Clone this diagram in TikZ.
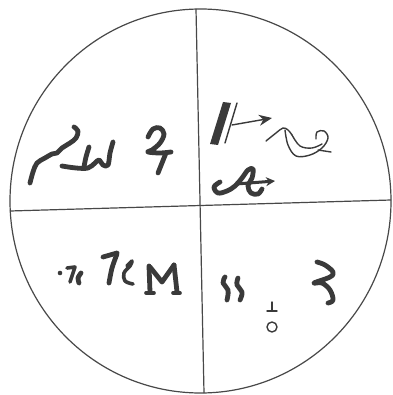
\documentclass[tikz,border=0pt]{standalone}
\usetikzlibrary{arrows.meta}
\definecolor{ink}{RGB}{58,58,58}
\definecolor{rimline}{RGB}{72,72,72}

\begin{document}
\begin{tikzpicture}[x=1pt, y=-1pt,
    rim/.style={draw=rimline, line width=1.2pt},
    sign/.style={draw=ink, line width=4.8pt, line cap=round, line join=round},
    midsign/.style={draw=ink, line width=3.6pt, line cap=round, line join=round},
    thinsign/.style={draw=ink, line width=1.4pt, line cap=round, line join=round},
    arr/.style={-{Stealth[length=13pt, width=11pt]}, thinsign}
  ]
  \useasboundingbox[fill=white] (0,0) rectangle (392,395);
  % disc and cross
  \coordinate (c) at (200.5,201);
  \coordinate (top) at (196,9);
  \coordinate (bot) at (204,393);
  \coordinate (lft) at (10,211);
  \coordinate (rgt) at (391,200);
  \draw[rim] (c) ellipse [x radius=190.5, y radius=192];
  \draw[rim] (top) -- (bot);
  \draw[rim] (lft) -- (rgt);

  % upper left
  \draw[sign] plot[smooth, tension=0.6] coordinates {(30,183) (33,172) (37,163) (45,158) (52,154) (57,153) (62,148) (70,143) (76,138) (78,131) (74,127)};
  \draw[sign] plot[smooth, tension=0.6] coordinates {(62,166) (76,168) (88,168) (95,163) (99,160) (103,165) (108,165) (110,153) (113,142)};
  \draw[sign] plot[smooth, tension=0.6] coordinates {(89,147) (86,157) (84,167)};
  \draw[sign] plot[smooth, tension=0.6] coordinates {(148,137) (153,129) (160,128) (164,134) (160,143) (152,150) (148,152) (160,153) (171,152)};
  \draw[sign] plot[smooth, tension=0.6] coordinates {(166,153) (162,163) (158,173)};

  % upper right
  \fill[ink] (223,102) -- (231,103) -- (218,145) -- (210,144) -- cycle;
  \draw[thinsign] (237,103) -- (225,143);
  \coordinate (a1) at (232,125);
  \coordinate (a2) at (272,118);
  \draw[arr] (a1) -- (a2);
  \draw[thinsign] plot[smooth, tension=0.6] coordinates {(266,141) (276,133) (283,128) (288,130) (292,135)};
  \draw[thinsign] plot[smooth, tension=0.6] coordinates {(285,130) (288,145) (296,156) (310,155) (322,148) (328,138) (324,131) (317,132) (316,139)};
  \draw[thinsign] plot[smooth, tension=0.6] coordinates {(292,135) (300,146) (312,148) (322,144)};
  \draw[thinsign] (318,150) -- (331,152);
  \draw[sign] plot[smooth, tension=0.6] coordinates {(220,182) (214,187) (218,193) (227,191) (235,186) (242,178) (248,170) (253,169) (252,178) (248,186) (251,193) (258,194) (262,189)};
  \coordinate (b1) at (236,184);
  \coordinate (b2) at (275,181);
  \draw[arr, line width=3pt, -{Stealth[length=9pt, width=9pt]}] (b1) -- (b2);

  % lower left
  \fill[ink] (60,273) circle (2.3);
  \draw[midsign] (67,268) -- (75,267) -- (70,282);
  \draw[sign] plot[smooth] coordinates {(81,273) (78,278) (79,283)};
  \draw[sign] (103,257) -- (117,253);
  \draw[sign] plot[smooth] coordinates {(117,254) (112,268) (109,283)};
  \draw[midsign] plot[smooth, tension=0.6] coordinates {(127,266) (132,261) (130,266) (124,273) (125,281) (133,284)};
  \draw[sign] (149,266) -- (150,292);
  \draw[sign] (150,267) -- (162,282) -- (174,265);
  \draw[sign] (174,265) -- (177,292);
  \draw[midsign] (146,293) -- (154,293);
  \draw[midsign] (173,293) -- (180,293);

  % lower right
  \draw[sign] plot[smooth, tension=0.7] coordinates {(225,277) (223,283) (228,290) (227,300)};
  \draw[sign] plot[smooth, tension=0.7] coordinates {(238,278) (237,285) (242,292) (240,300)};
  \draw[thinsign] (272,302) -- (272,310);
  \draw[thinsign] (267,311) -- (277,311);
  \draw[thinsign] (272,327) circle (5);
  \draw[sign] plot[smooth, tension=0.6] coordinates {(317,262) (325,265) (333,272) (330,277) (314,283) (322,283) (330,290) (333,300) (328,303)};
\end{tikzpicture}
\end{document}
